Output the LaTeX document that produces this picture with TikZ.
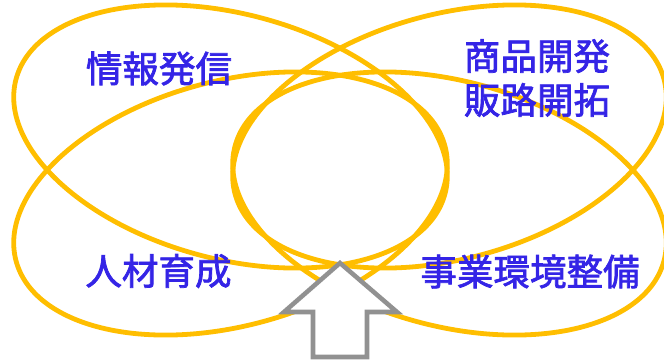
\documentclass[tikz,border=0pt]{standalone}
\usepackage{fontspec}
\usepackage{tikz}
\newfontfamily\jpfont[FakeBold=2]{Noto Sans CJK JP}
\definecolor{petalgold}{RGB}{255,190,0}
\definecolor{labelblue}{RGB}{52,36,230}
\definecolor{arrowgray}{RGB}{145,145,145}

\begin{document}
\begin{tikzpicture}[x=0.75pt, y=-0.75pt,
	petal/.style={draw=petalgold, line width=3.6pt},
	label/.style={text=labelblue, inner sep=0pt, align=center,
		font=\jpfont\fontsize{27.4}{33}\selectfont},
	uparrow/.style={draw=arrowgray, fill=white, line width=3.4pt, line join=miter}]
	\useasboundingbox (0,0) rectangle (664,361);
	
	\coordinate (tl) at (230.5,136.5);
	\coordinate (tr) at (449.5,136.5);
	\coordinate (bl) at (230.5,203.5);
	\coordinate (br) at (449.5,203.5);
	
	\draw[petal, rotate around={-15:(tl)}] (tl) ellipse [x radius=222, y radius=122.5];
	\draw[petal, rotate around={15:(tr)}] (tr) ellipse [x radius=222, y radius=122.5];
	\draw[petal, rotate around={15:(bl)}] (bl) ellipse [x radius=222, y radius=122.5];
	\draw[petal, rotate around={-15:(br)}] (br) ellipse [x radius=222, y radius=122.5];
	
	\node[label] (info) at (159,68.5) {情報発信};
	\node[label] (goods) at (537,78) {商品開発\\販路開拓};
	\node[label] (staff) at (158.5,271) {人材育成};
	\node[label] (biz) at (530,271.5) {事業環境整備};
	
	\coordinate (tip) at (340,263);
	\draw[uparrow] (tip) -- (397,312) -- (367,312) -- (367,357) -- (313,357) -- (313,312) -- (284,312) -- cycle;
\end{tikzpicture}
\end{document}
